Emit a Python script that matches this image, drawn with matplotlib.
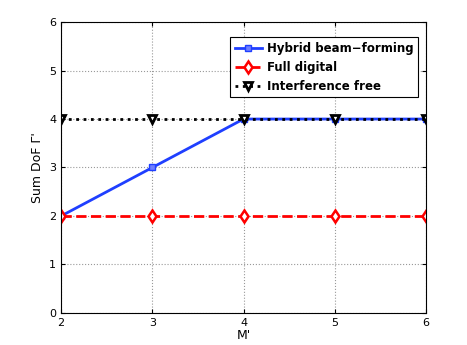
import matplotlib
matplotlib.use("Agg")
import matplotlib.pyplot as plt

m_vals = [2, 3, 4, 5, 6]
hybrid = [2, 3, 4, 4, 4]
full_digital = [2, 2, 2, 2, 2]
interf_free = [4, 4, 4, 4, 4]

fig = plt.figure(figsize=(4.67, 3.45), dpi=100)
ax = fig.add_axes([0.131, 0.093, 0.781, 0.843])

ax.plot(m_vals, hybrid, '-', color='#1f3fff', lw=2, marker='s', ms=5,
        mfc='#6f7fff', mec='#1f3fff', label='Hybrid beam\u2212forming')
ax.plot(m_vals, full_digital, '--', color='red', lw=2, marker='d', ms=6.5,
        mfc='white', mec='red', mew=1.8, label='Full digital')
ax.plot(m_vals, interf_free, ':', color='black', lw=2, marker='v', ms=6,
        mfc='white', mec='black', mew=2, label='Interference free')

ax.set_xlim(2, 6)
ax.set_ylim(0, 6)
ax.set_xticks(m_vals)
ax.set_yticks(range(0, 7))
ax.grid(True, linestyle=':', color='#999999', lw=0.8)
ax.tick_params(direction='in', labelsize=8, length=3, top=True, right=True)
ax.set_xlabel("M'", fontsize=9, labelpad=1)
ax.set_ylabel("Sum DoF \u0393'", fontsize=9)

leg = ax.legend(loc='upper right', bbox_to_anchor=(0.978, 0.948),
                borderaxespad=0, prop={'weight': 'bold', 'size': 8.5},
                fancybox=False, framealpha=1, edgecolor='black',
                handlelength=2.3, handletextpad=0.4, borderpad=0.4,
                labelspacing=0.5)
leg.get_frame().set_linewidth(0.8)

fig.savefig('out.png', dpi=100)
